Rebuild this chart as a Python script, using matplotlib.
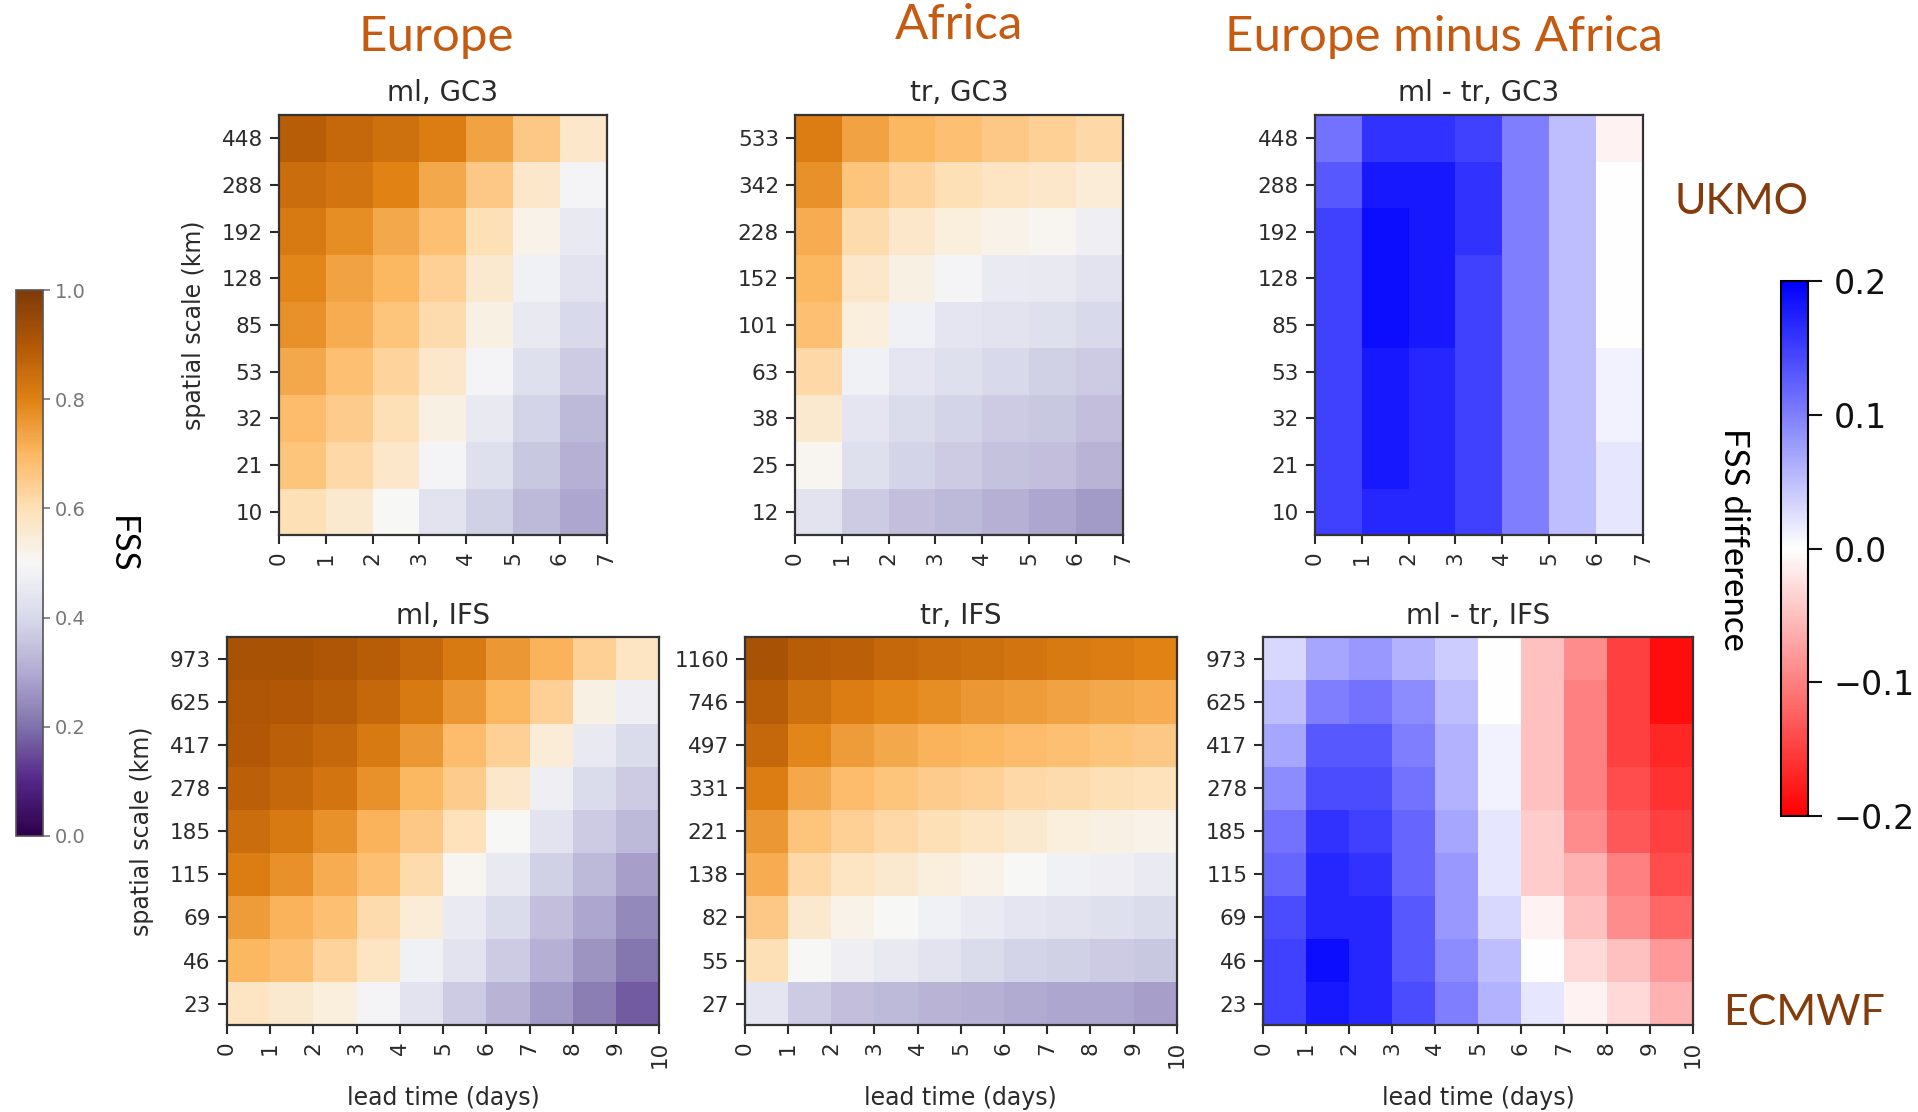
import matplotlib.pyplot as plt
import numpy as np

# spatial scales (km), listed top row first
scales_gc3_ml = [448, 288, 192, 128, 85, 53, 32, 21, 10]
scales_gc3_tr = [533, 342, 228, 152, 101, 63, 38, 25, 12]
scales_ifs_ml = [973, 625, 417, 278, 185, 115, 69, 46, 23]
scales_ifs_tr = [1160, 746, 497, 331, 221, 138, 82, 55, 27]

# FSS, rows = scales (top first), columns = lead time 0..6 / 0..9 days
fss_gc3_ml = [
    [0.89, 0.86, 0.84, 0.81, 0.74, 0.66, 0.57],
    [0.85, 0.83, 0.80, 0.73, 0.66, 0.57, 0.49],
    [0.82, 0.78, 0.73, 0.68, 0.60, 0.52, 0.45],
    [0.79, 0.74, 0.70, 0.64, 0.56, 0.48, 0.43],
    [0.77, 0.72, 0.67, 0.61, 0.53, 0.45, 0.40],
    [0.73, 0.68, 0.63, 0.57, 0.49, 0.42, 0.37],
    [0.69, 0.65, 0.60, 0.53, 0.45, 0.39, 0.33],
    [0.67, 0.62, 0.57, 0.49, 0.42, 0.36, 0.31],
    [0.60, 0.56, 0.50, 0.43, 0.38, 0.33, 0.29],
]
fss_gc3_tr = [
    [0.81, 0.74, 0.70, 0.68, 0.66, 0.64, 0.62],
    [0.77, 0.67, 0.63, 0.60, 0.58, 0.57, 0.55],
    [0.72, 0.61, 0.57, 0.54, 0.52, 0.51, 0.47],
    [0.70, 0.57, 0.53, 0.49, 0.46, 0.45, 0.43],
    [0.68, 0.54, 0.48, 0.44, 0.43, 0.42, 0.40],
    [0.62, 0.48, 0.44, 0.42, 0.40, 0.38, 0.37],
    [0.56, 0.44, 0.41, 0.39, 0.37, 0.36, 0.34],
    [0.51, 0.42, 0.39, 0.37, 0.35, 0.34, 0.32],
    [0.43, 0.37, 0.34, 0.33, 0.31, 0.29, 0.27],
]
diff_gc3 = [
    [0.11, 0.16, 0.16, 0.15, 0.10, 0.05, -0.01],
    [0.13, 0.18, 0.18, 0.16, 0.10, 0.05, 0.00],
    [0.15, 0.19, 0.18, 0.16, 0.10, 0.05, 0.00],
    [0.15, 0.19, 0.18, 0.15, 0.10, 0.05, 0.00],
    [0.15, 0.19, 0.18, 0.15, 0.10, 0.05, 0.00],
    [0.15, 0.18, 0.17, 0.15, 0.10, 0.05, 0.01],
    [0.15, 0.18, 0.17, 0.15, 0.10, 0.05, 0.01],
    [0.15, 0.18, 0.17, 0.15, 0.10, 0.05, 0.02],
    [0.15, 0.17, 0.17, 0.15, 0.10, 0.05, 0.02],
]
fss_ifs_ml = [
    [0.92, 0.92, 0.91, 0.89, 0.86, 0.82, 0.76, 0.71, 0.64, 0.58],
    [0.91, 0.90, 0.89, 0.86, 0.82, 0.76, 0.70, 0.64, 0.53, 0.47],
    [0.90, 0.88, 0.86, 0.82, 0.76, 0.69, 0.64, 0.55, 0.45, 0.41],
    [0.88, 0.86, 0.83, 0.77, 0.70, 0.65, 0.57, 0.47, 0.41, 0.37],
    [0.85, 0.82, 0.77, 0.71, 0.66, 0.59, 0.50, 0.43, 0.37, 0.33],
    [0.81, 0.77, 0.72, 0.68, 0.61, 0.51, 0.45, 0.38, 0.33, 0.28],
    [0.75, 0.71, 0.68, 0.61, 0.55, 0.46, 0.41, 0.34, 0.29, 0.24],
    [0.70, 0.68, 0.63, 0.58, 0.48, 0.43, 0.37, 0.31, 0.26, 0.21],
    [0.58, 0.56, 0.54, 0.49, 0.43, 0.37, 0.32, 0.27, 0.22, 0.17],
]
fss_ifs_tr = [
    [0.92, 0.89, 0.88, 0.86, 0.85, 0.84, 0.83, 0.82, 0.81, 0.80],
    [0.89, 0.84, 0.81, 0.79, 0.78, 0.76, 0.75, 0.74, 0.73, 0.72],
    [0.86, 0.79, 0.75, 0.73, 0.71, 0.70, 0.69, 0.68, 0.67, 0.66],
    [0.81, 0.73, 0.69, 0.67, 0.65, 0.64, 0.62, 0.61, 0.60, 0.59],
    [0.76, 0.67, 0.64, 0.62, 0.60, 0.58, 0.56, 0.54, 0.53, 0.52],
    [0.72, 0.62, 0.58, 0.56, 0.54, 0.52, 0.50, 0.48, 0.47, 0.46],
    [0.66, 0.56, 0.52, 0.50, 0.48, 0.46, 0.44, 0.43, 0.42, 0.41],
    [0.60, 0.50, 0.47, 0.45, 0.43, 0.41, 0.39, 0.38, 0.37, 0.36],
    [0.44, 0.37, 0.34, 0.33, 0.32, 0.31, 0.30, 0.29, 0.29, 0.28],
]
diff_ifs = [
    [0.03, 0.07, 0.08, 0.06, 0.04, 0.00, -0.05, -0.09, -0.15, -0.19],
    [0.05, 0.10, 0.11, 0.09, 0.05, 0.00, -0.05, -0.10, -0.15, -0.19],
    [0.07, 0.13, 0.13, 0.10, 0.06, 0.01, -0.05, -0.10, -0.15, -0.17],
    [0.09, 0.14, 0.14, 0.11, 0.06, 0.01, -0.05, -0.10, -0.14, -0.16],
    [0.11, 0.16, 0.15, 0.12, 0.07, 0.02, -0.04, -0.09, -0.13, -0.15],
    [0.12, 0.17, 0.16, 0.12, 0.08, 0.02, -0.04, -0.06, -0.10, -0.14],
    [0.14, 0.17, 0.17, 0.13, 0.08, 0.03, -0.01, -0.05, -0.09, -0.12],
    [0.15, 0.19, 0.17, 0.13, 0.09, 0.05, 0.00, -0.03, -0.05, -0.08],
    [0.15, 0.18, 0.17, 0.14, 0.10, 0.06, 0.02, -0.01, -0.03, -0.06],
]

TICK_COL = "#2a2a2a"


def draw_panel(fig, rect, vals, scales, title, diff=False, ylabel=False, xlabel=False):
    ax = fig.add_axes(rect)
    z = np.flipud(np.array(vals))
    nrow, ncol = z.shape
    if diff:
        mesh = ax.pcolormesh(np.arange(ncol + 1), np.arange(nrow + 1), z,
                             cmap="bwr_r", vmin=-0.2, vmax=0.2)
    else:
        mesh = ax.pcolormesh(np.arange(ncol + 1), np.arange(nrow + 1), z,
                             cmap="PuOr_r", vmin=0, vmax=1)
    ax.set_xlim(0, ncol)
    ax.set_ylim(0, nrow)
    ax.set_xticks(np.arange(ncol + 1))
    ax.set_xticklabels([str(i) for i in range(ncol + 1)], rotation=90)
    ax.set_yticks(np.arange(nrow) + 0.5)
    ax.set_yticklabels([str(s) for s in scales[::-1]])
    ax.tick_params(labelsize=15.5, colors=TICK_COL, length=6.5, width=1.5, pad=5)
    for sp in ax.spines.values():
        sp.set_linewidth(1.6)
        sp.set_color("#333333")
    ax.set_title(title, fontsize=20, color=TICK_COL, pad=10)
    if ylabel:
        ax.set_ylabel("spatial scale (km)", fontsize=17, color=TICK_COL, labelpad=11)
    if xlabel:
        ax.set_xlabel("lead time (days)", fontsize=17, color=TICK_COL, labelpad=13)
    return mesh


fig = plt.figure(figsize=(19.18, 11.12), dpi=100)

m_fss = draw_panel(fig, [0.1454, 0.5187, 0.1709, 0.3779], fss_gc3_ml, scales_gc3_ml,
                   "ml, GC3", ylabel=True)
draw_panel(fig, [0.4145, 0.5187, 0.1709, 0.3779], fss_gc3_tr, scales_gc3_tr, "tr, GC3")
m_diff = draw_panel(fig, [0.6856, 0.5187, 0.1709, 0.3779], diff_gc3, scales_gc3_ml,
                    "ml - tr, GC3", diff=True)
draw_panel(fig, [0.1183, 0.0781, 0.2254, 0.3487], fss_ifs_ml, scales_ifs_ml,
           "ml, IFS", ylabel=True, xlabel=True)
draw_panel(fig, [0.3884, 0.0781, 0.2251, 0.3487], fss_ifs_tr, scales_ifs_tr,
           "tr, IFS", xlabel=True)
draw_panel(fig, [0.6586, 0.0781, 0.2240, 0.3487], diff_ifs, scales_ifs_ml,
           "ml - tr, IFS", diff=True, xlabel=True)

# FSS colourbar on the left
cax1 = fig.add_axes([0.0085, 0.2486, 0.0138, 0.4902])
cb1 = fig.colorbar(m_fss, cax=cax1, ticks=[0, 0.2, 0.4, 0.6, 0.8, 1.0])
cb1.ax.tick_params(labelsize=14, colors="#777777", length=5, width=1.2)
cb1.outline.set_linewidth(1.2)
cb1.outline.set_edgecolor("#555555")
fig.text(0.0638, 0.5105, "FSS", rotation=270, fontsize=25, family="Lato",
         ha="center", va="center")

# FSS difference colourbar on the right
cax2 = fig.add_axes([0.9286, 0.2662, 0.0143, 0.4807])
cb2 = fig.colorbar(m_diff, cax=cax2, ticks=[-0.2, -0.1, 0.0, 0.1, 0.2])
cb2.ax.tick_params(labelsize=24, colors="#111111", length=10, width=1.5, pad=8)
cb2.outline.set_linewidth(1.5)
fig.text(0.9043, 0.515, "FSS difference", rotation=270, fontsize=25, family="Lato",
         ha="center", va="center")

# region / model headings
head_col = "#C55A11"
fig.text(0.2277, 0.9538, "Europe", fontsize=35.5, color=head_col, family="Lato",
         ha="center", va="baseline")
fig.text(0.5, 0.9648, "Africa", fontsize=35.5, color=head_col, family="Lato",
         ha="center", va="baseline")
fig.text(0.7526, 0.9538, "Europe minus Africa", fontsize=35.5, color=head_col,
         family="Lato", ha="center", va="baseline")
fig.text(0.9082, 0.8075, "UKMO", fontsize=31, color="#843C0C", family="Lato",
         ha="center", va="baseline")
fig.text(0.9407, 0.0781, "ECMWF", fontsize=31, color="#843C0C", family="Lato",
         ha="center", va="baseline")

fig.savefig("out.png", dpi=100)
